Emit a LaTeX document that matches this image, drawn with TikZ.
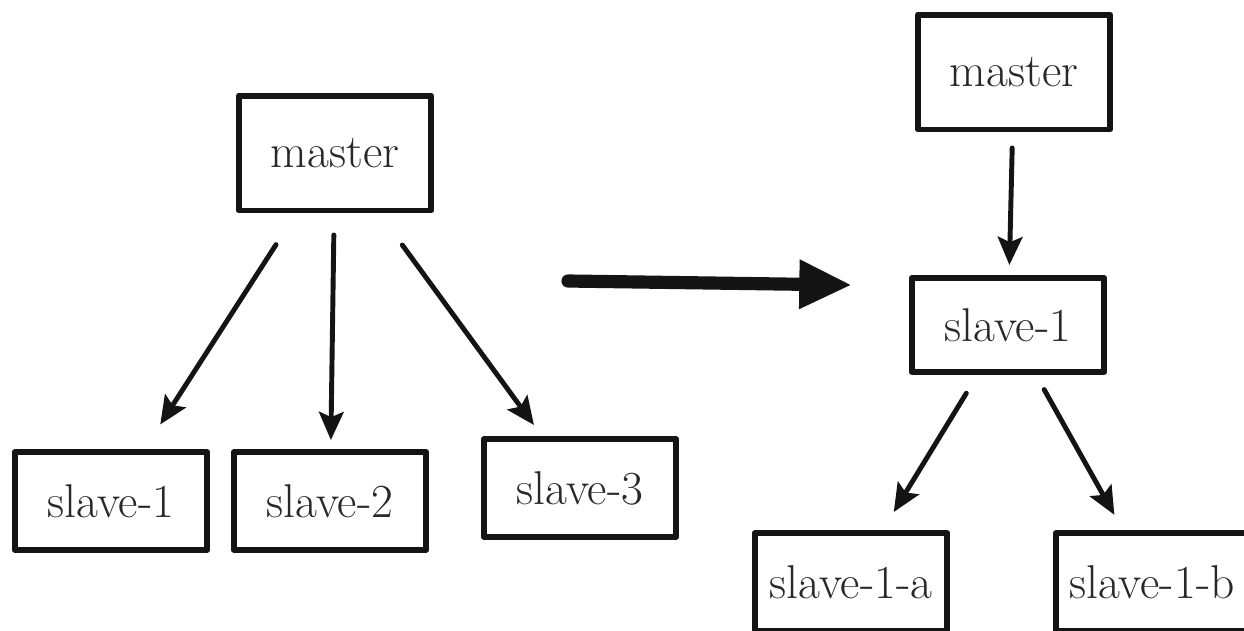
\documentclass[tikz,border=0pt]{standalone}
\usepackage{tikz}
\usetikzlibrary{arrows.meta,positioning}
\definecolor{ink}{RGB}{20,20,20}
\definecolor{txt}{RGB}{40,40,40}

\begin{document}
\begin{tikzpicture}[x=0.02cm, y=-0.02cm,
          box/.style={draw=ink, line width=3.4pt, line join=round,
                      minimum width=3.85cm, minimum height=1.95cm,
                      font=\fontsize{27}{31}\selectfont, text=txt,
                      fill=white, inner sep=2pt},
          tall/.style={box, minimum height=2.3cm},
          arr/.style={-{Stealth[length=16pt, width=14pt, inset=3pt]},
                      line width=2.8pt, ink, line cap=round},
          bigarr/.style={-{Triangle[length=30pt, width=26pt]},
                      line width=7.5pt, ink, line cap=round}
        ]
          \useasboundingbox (0,0) rectangle (1244,630);
          \clip (0,0) rectangle (1244,630);
          % left tree
          \node[tall] (m1) at (335,153) {master};
          \node[box] (s1) at (111,501) {slave-1};
          \node[box] (s2) at (330,501) {slave-2};
          \node[box] (s3) at (580,488) {slave-3};
          \draw[arr, shorten <=2.18cm, shorten >=1.82cm] (m1.center) -- (s1.center);
          \draw[arr, shorten <=1.64cm, shorten >=1.22cm] (m1.center) -- (s2.center);
          \draw[arr, shorten <=2.28cm, shorten >=1.56cm] (m1.center) -- (s3.center);
          % right tree
          \node[tall] (m2) at (1014,72) {master};
          \node[box, minimum height=1.88cm] (r1) at (1008,325) {slave-1};
          \node[box] (ra) at (851,582) {slave-1-a};
          \node[box] (rb) at (1152,582) {slave-1-b};
          \draw[arr, shorten <=1.52cm, shorten >=1.20cm] (m2.center) -- (r1.center);
          \draw[arr, shorten <=1.60cm, shorten >=1.64cm] (r1.center) -- (ra.center);
          \draw[arr, shorten <=1.48cm, shorten >=1.54cm] (r1.center) -- (rb.center);
          % the big arrow between both trees
          \coordinate (from) at (568,281);
          \coordinate (to) at (852,285);
          \draw[bigarr] (from) -- (to);
        \end{tikzpicture}
\end{document}
